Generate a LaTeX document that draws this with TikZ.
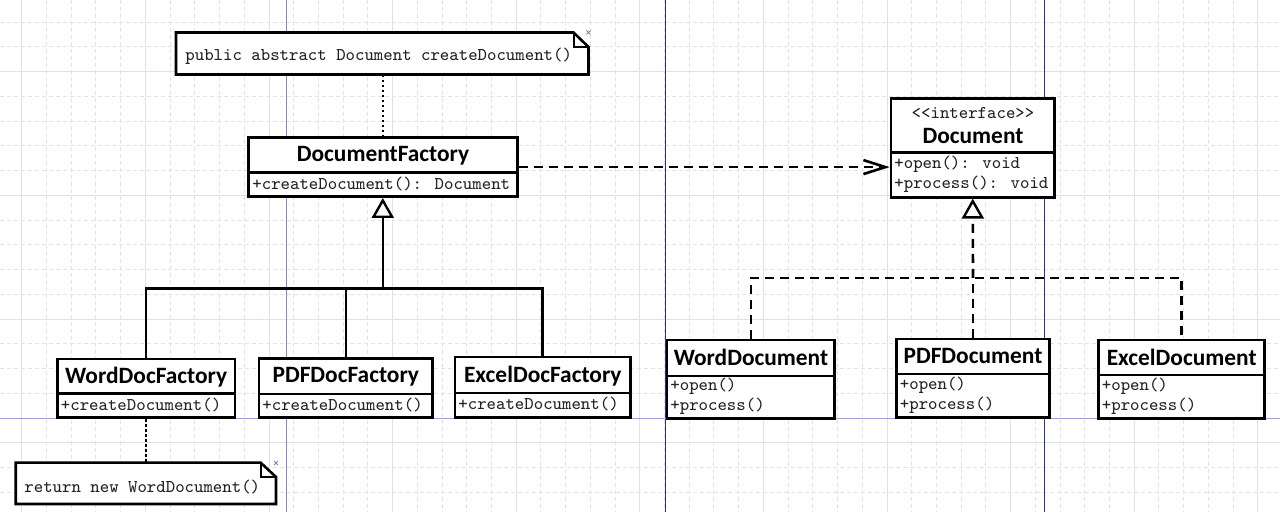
\documentclass[tikz,border=0pt]{standalone}
\usepackage{fontspec}
\setmainfont{Carlito}
\usetikzlibrary{arrows.meta,fit}
\definecolor{gridminor}{HTML}{DFE4E4}
\definecolor{gridmajor}{HTML}{DDE3E3}
\definecolor{pagelight}{HTML}{8484CC}
\definecolor{pagedark}{HTML}{303088}
\definecolor{pagehor}{HTML}{A0A0DC}
\definecolor{memtext}{HTML}{222222}
\definecolor{handle}{HTML}{8080D0}
\tikzset{
  box/.style={draw, line width=1.3pt, fill=white, inner sep=0pt},
  ttl/.style={font=\bfseries\fontsize{11.7}{14}\selectfont, inner sep=0pt},
  mem/.style={font=\ttfamily\fontsize{8.98}{10}\selectfont, text=memtext, inner sep=0pt, anchor=west},
  stereo/.style={font=\ttfamily\fontsize{8.98}{10}\selectfont, text=memtext, inner sep=0pt},
  notebox/.style={line width=1.3pt, fill=white},
  divline/.style={line width=1.3pt},
  dashline/.style={line width=1.3pt, dash pattern=on 4.5pt off 3pt},
  dotline/.style={line width=1.3pt, dash pattern=on 1.3pt off 1.2pt},
  solidline/.style={line width=1.3pt},
  gentip/.style={-{Triangle[open, fill=white, length=10pt, width=11pt, line width=1.2pt]}},
  deptip/.style={-{Straight Barb[length=11pt, width=7pt, line width=1.3pt]}},
  minorgrid/.style={draw=gridminor, line width=0.5pt, dash pattern=on 2pt off 1.5pt},
  majorgrid/.style={draw=gridmajor, line width=0.5pt},
}
\begin{document}
\begin{tikzpicture}[x=0.5pt,y=-0.5pt]
\useasboundingbox[fill=white] (0,0) rectangle (1280,512);
% grid
\foreach \k in {0,...,51} \draw[minorgrid] ({21.8+24.72*\k},0) -- ({21.8+24.72*\k},512);
\foreach \k in {0,...,21} \draw[minorgrid] (0,{-2.55+24.75*\k}) -- (1280,{-2.55+24.75*\k});
\foreach \k in {0,...,10} \draw[majorgrid] ({21.8+123.6*\k},0) -- ({21.8+123.6*\k},512);
\foreach \k in {0,...,3} \draw[majorgrid] (0,{71.7+123.75*\k}) -- (1280,{71.7+123.75*\k});
% page lines
\draw[pagelight, line width=0.6pt] (286.5,0) -- (286.5,512);
\draw[pagedark, line width=0.6pt] (665.5,0) -- (665.5,512);
\draw[pagedark, line width=0.6pt] (1044.5,0) -- (1044.5,512);
\draw[pagehor, line width=0.6pt] (0,418.5) -- (1280,418.5);

% ---------- note 1
\draw[notebox] (176,32.5) -- (573.5,32.5) -- (588.5,47) -- (588.5,74.5) -- (176,74.5) -- cycle;
\draw[line width=1pt] (573.5,32.5) |- (588.5,47);
\node[inner sep=0pt, fit={(176,32.5)(588.5,74.5)}] (n1) {};
\node[mem] (n1t) at (185,56.7) {public abstract Document createDocument()};
\draw[handle, line width=0.4pt] (586.5,30.5) -- (590.5,34.5) (586.5,34.5) -- (590.5,30.5);

% ---------- DocumentFactory
\node[box, fit={(248.3,137.5)(517.3,196.7)}] (df) {};
\draw[divline] (248.3,172.5) -- (517.3,172.5);
\node[ttl] (dft) at (383,155.5) {DocumentFactory};
\node[mem] (dfm) at (252,184.5) {+createDocument(): Document};

% ---------- Document interface
\node[box, fit={(891,98.3)(1054.5,197.3)}] (doc) {};
\draw[divline] (891,152.7) -- (1054.5,152.7);
\node[stereo] (docs) at (973,113.3) {<<interface>>};
\node[ttl] (doct) at (973,135.7) {Document};
\node[mem] (docm1) at (894,164) {+open(): void};
\node[mem] (docm2) at (894,184.3) {+process(): void};

% ---------- factories
\node[box, fit={(57.3,359)(235,417.7)}] (wdf) {};
\draw[divline] (57.3,393.5) -- (235,393.5);
\node[ttl] (wdft) at (146.2,376.7) {WordDocFactory};
\node[mem] (wdfm) at (60.5,405) {+createDocument()};

\node[box, fit={(259,358.7)(432.6,417.5)}] (pdff) {};
\draw[divline] (259,394) -- (432.6,394);
\node[ttl] (pdfft) at (345.8,376.7) {PDFDocFactory};
\node[mem] (pdffm) at (262,405) {+createDocument()};

\node[box, fit={(455,357)(630.5,417.5)}] (edf) {};
\draw[divline] (455,393) -- (630.5,393);
\node[ttl] (edft) at (542.8,376) {ExcelDocFactory};
\node[mem] (edfm) at (458,404.5) {+createDocument()};

% ---------- documents
\node[box, fit={(667,340)(834.7,418.3)}] (wd) {};
\draw[divline] (667,376) -- (834.7,376);
\node[ttl] (wdt) at (751,357.5) {WordDocument};
\node[mem] (wdm1) at (670,386.7) {+open()};
\node[mem] (wdm2) at (670,406) {+process()};

\node[box, fit={(896.4,339)(1049.5,417.5)}] (pd) {};
\draw[divline] (896.4,374) -- (1049.5,374);
\node[ttl] (pdt) at (973,356.5) {PDFDocument};
\node[mem] (pdm1) at (899.5,385) {+open()};
\node[mem] (pdm2) at (899.5,405) {+process()};

\node[box, fit={(1098.7,340)(1264.7,418.3)}] (ed) {};
\draw[divline] (1098.7,375) -- (1264.7,375);
\node[ttl] (edt) at (1181.7,357.5) {ExcelDocument};
\node[mem] (edm1) at (1101.5,386.5) {+open()};
\node[mem] (edm2) at (1101.5,406) {+process()};

% ---------- note 2
\draw[notebox] (15.7,462.7) -- (260.7,462.7) -- (276,477) -- (276,504) -- (15.7,504) -- cycle;
\draw[line width=1pt] (260.7,462.7) |- (276,477);
\node[inner sep=0pt, fit={(15.7,462.7)(276,504)}] (n2) {};
\node[mem] (n2t) at (24,487) {return new WordDocument()};
\draw[handle, line width=0.4pt] (274,461) -- (278,465) (274,465) -- (278,461);

% ---------- connectors
\draw[dotline] (df.north |- n1.south) -- (df.north);
\draw[dotline] (wdf.south) -- (wdf.south |- n2.north);

\coordinate (j1) at (382.8,288.3);
\draw[solidline, gentip] (j1) -- (df.south);
\draw[solidline] (wdf.north) |- (j1) -| (edf.north);
\draw[solidline] (pdff.north) -- (pdff.north |- j1);

\draw[dashline, deptip] (df.east) -- (doc.west |- df.east);

\coordinate (j2) at (973,278);
\draw[dashline, gentip] (j2) -- (doc.south);
\draw[dashline] (wd.north) |- (j2) -| (ed.north);
\draw[dashline] (pd.north) -- (pd.north |- j2);
\end{tikzpicture}
\end{document}
